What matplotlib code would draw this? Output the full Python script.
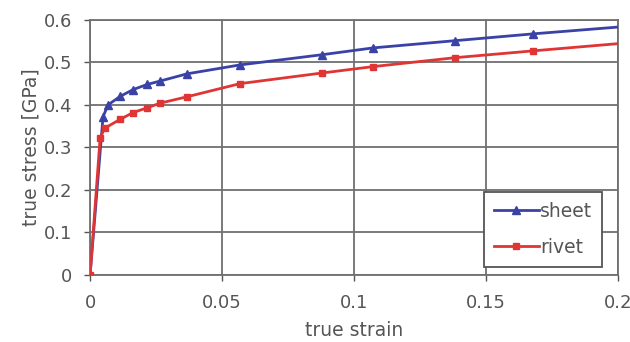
import numpy as np
from matplotlib import pyplot as plt

plt.rcParams["font.family"] = ["DejaVu Sans"]

# data
sheet_strain = [0.0, 0.0049, 0.0068, 0.0114, 0.0163, 0.0216, 0.0265, 0.0367,
                0.0568, 0.0879, 0.1072, 0.1383, 0.1678, 0.2]
sheet_stress = [0.0, 0.372, 0.400, 0.420, 0.436, 0.448, 0.456, 0.473,
                0.494, 0.518, 0.534, 0.551, 0.567, 0.583]

rivet_strain = [0.0, 0.0038, 0.0055, 0.0114, 0.0163, 0.0216, 0.0265, 0.0367,
                0.0568, 0.0879, 0.1072, 0.1383, 0.1678, 0.2]
rivet_stress = [0.0, 0.322, 0.345, 0.366, 0.382, 0.393, 0.404, 0.419,
                0.450, 0.475, 0.490, 0.511, 0.527, 0.544]

xticks = [0, 0.05, 0.1, 0.15, 0.2]
xtick_labels = ["0", "0.05", "0.1", "0.15", "0.2"]
yticks = [0, 0.1, 0.2, 0.3, 0.4, 0.5, 0.6]
ytick_labels = ["0", "0.1", "0.2", "0.3", "0.4", "0.5", "0.6"]

fig = plt.figure(figsize=(6.3, 3.42), dpi=100)
ax = fig.add_axes([0.143, 0.196, 0.838, 0.746])

n = len(sheet_strain)
ax.plot(sheet_strain, sheet_stress, "-^", color="#3a42a6", linewidth=2,
        markersize=6, markevery=list(range(n - 1)), label="sheet", zorder=3)
ax.plot(rivet_strain, rivet_stress, "-s", color="#e03535", linewidth=2,
        markersize=5, markevery=list(range(n - 1)), label="rivet", zorder=3)

ax.set_xlim(0, 0.2)
ax.set_ylim(0, 0.6)
ax.set_xticks(xticks)
ax.set_xticklabels(xtick_labels)
ax.set_yticks(yticks)
ax.set_yticklabels(ytick_labels)
ax.tick_params(labelsize=13, colors="#555555", length=4, width=1)
ax.tick_params(axis="x", pad=10)
ax.tick_params(axis="y", pad=9)

ax.grid(True, color="#707070", linewidth=1.3)
for s in ax.spines.values():
    s.set_color("#707070")
    s.set_linewidth(1.3)

ax.set_xlabel("true strain", fontsize=13.5, color="#555555", labelpad=6)
ax.set_ylabel("true stress [GPa]", fontsize=13.5, color="#555555", labelpad=2)

leg = ax.legend(loc="lower right", bbox_to_anchor=(0.97, 0.031), fontsize=13.5,
                fancybox=False, framealpha=1, edgecolor="#555555",
                borderaxespad=0, handlelength=2.4, handletextpad=0.05,
                borderpad=0.55, labelspacing=0.9)
leg.get_frame().set_linewidth(1.3)
for t in leg.get_texts():
    t.set_color("#555555")

fig.savefig("out.png", dpi=100)
